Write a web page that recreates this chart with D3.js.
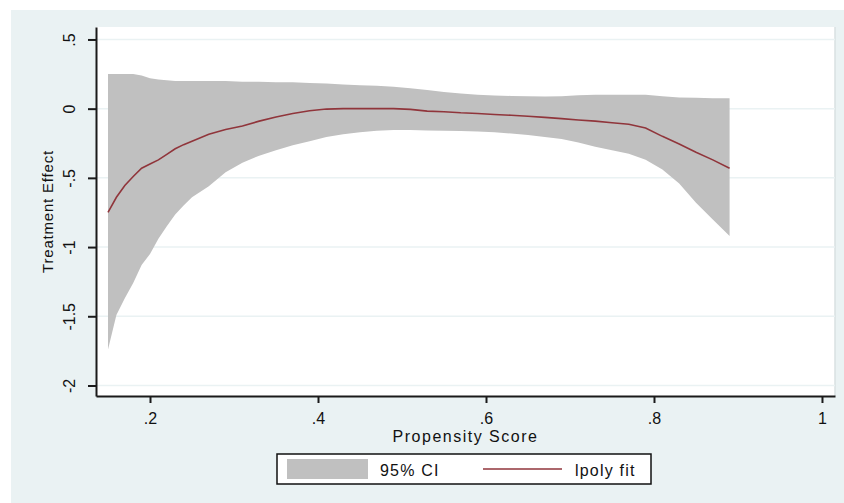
<!DOCTYPE html>
<html>
<head>
<meta charset="utf-8">
<script src="https://cdn.jsdelivr.net/npm/d3@7"></script>
<style>
  body { margin: 0; background: #fff; }
  text { font-family: "Liberation Sans", Arial, sans-serif; fill: #111; }
</style>
</head>
<body>
<svg width="844" height="503"></svg>
<script>
// lpoly grid (propensity score) with fit and 95% CI bounds
const scoreGrid = [0.15, 0.16, 0.17, 0.18, 0.19, 0.20, 0.21, 0.22, 0.23, 0.24, 0.25, 0.27, 0.29, 0.31, 0.33, 0.35,
  0.37, 0.39, 0.41, 0.43, 0.45, 0.47, 0.49, 0.51, 0.53, 0.55, 0.57, 0.59, 0.61, 0.63, 0.65, 0.67, 0.69,
  0.71, 0.73, 0.75, 0.77, 0.79, 0.81, 0.83, 0.85, 0.87, 0.89];
const fitValues = [-0.75, -0.64, -0.555, -0.49, -0.43, -0.40, -0.37, -0.33, -0.29, -0.26, -0.235, -0.185, -0.15,
  -0.125, -0.09, -0.06, -0.035, -0.015, -0.003, 0, 0, 0, 0, -0.005, -0.018, -0.022, -0.03, -0.035, -0.042,
  -0.048, -0.055, -0.063, -0.072, -0.082, -0.09, -0.102, -0.113, -0.14, -0.2, -0.255, -0.315, -0.37, -0.43];
const ciUpper = [0.25, 0.25, 0.25, 0.25, 0.24, 0.22, 0.21, 0.205, 0.20, 0.20, 0.20, 0.20, 0.20, 0.195, 0.195,
  0.19, 0.19, 0.185, 0.182, 0.175, 0.17, 0.165, 0.158, 0.148, 0.135, 0.12, 0.11, 0.10, 0.095, 0.092, 0.09,
  0.088, 0.09, 0.097, 0.1, 0.1, 0.1, 0.1, 0.09, 0.08, 0.078, 0.076, 0.075];
const ciLower = [-1.74, -1.49, -1.37, -1.26, -1.13, -1.05, -0.94, -0.85, -0.765, -0.70, -0.64, -0.56, -0.46,
  -0.39, -0.34, -0.30, -0.265, -0.235, -0.205, -0.185, -0.17, -0.16, -0.155, -0.155, -0.157, -0.16, -0.162,
  -0.165, -0.17, -0.18, -0.19, -0.205, -0.22, -0.245, -0.275, -0.30, -0.325, -0.37, -0.44, -0.54, -0.68,
  -0.80, -0.92];

const xTicks = [0.2, 0.4, 0.6, 0.8, 1];
const xTickLabels = ['.2', '.4', '.6', '.8', '1'];
const yTicks = [0.5, 0, -0.5, -1, -1.5, -2];
const yTickLabels = ['.5', '0', '-.5', '-1', '-1.5', '-2'];
const legendLabels = ['95% CI', 'lpoly fit'];

const svg = d3.select('svg');
const width = +svg.attr('width');
const height = +svg.attr('height');

const data = scoreGrid.map((s, i) => ({ s, fit: fitValues[i], lo: ciLower[i], hi: ciUpper[i] }));

const plot = { left: 96, top: 27, right: 835, bottom: 396 };

// outer graph region
svg.append('rect')
  .attr('x', 11).attr('y', 10)
  .attr('width', width - 11).attr('height', height - 10)
  .attr('fill', '#eaf2f3');

// plot region
svg.append('rect')
  .attr('x', plot.left).attr('y', plot.top)
  .attr('width', plot.right - plot.left).attr('height', plot.bottom - plot.top)
  .attr('fill', '#fff');
svg.append('line')
  .attr('x1', plot.right).attr('x2', plot.right)
  .attr('y1', plot.top).attr('y2', plot.bottom)
  .attr('stroke', '#d9e0e2').attr('stroke-width', 1.5);

const xScale = d3.scaleLinear()
  .domain([0.1357, 1.0155])
  .range([plot.left, plot.right]);

const yScale = d3.scaleLinear()
  .domain([-2.076, 0.590])
  .range([plot.bottom, plot.top]);

// gridlines
svg.append('g')
  .selectAll('line')
  .data(yTicks).enter()
  .append('line')
    .attr('x1', plot.left).attr('x2', plot.right)
    .attr('y1', d => yScale(d)).attr('y2', d => yScale(d))
    .attr('stroke', '#eaf2f3')
    .attr('stroke-width', 1.5);

// CI band
const area = d3.area()
  .x(d => xScale(d.s))
  .y0(d => yScale(d.lo))
  .y1(d => yScale(d.hi));

svg.append('path')
  .datum(data)
  .attr('d', area)
  .attr('fill', '#c0c0c0');

// lpoly fit
const line = d3.line()
  .x(d => xScale(d.s))
  .y(d => yScale(d.fit));

svg.append('path')
  .datum(data)
  .attr('d', line)
  .attr('fill', 'none')
  .attr('stroke', '#90353b')
  .attr('stroke-width', 1.6);

// axes
const yAxis = svg.append('g')
  .attr('transform', `translate(${plot.left},0)`)
  .call(d3.axisLeft(yScale).tickValues(yTicks).tickSize(8).tickSizeOuter(0)
    .tickFormat((d, i) => yTickLabels[i]));
yAxis.selectAll('.tick text')
  .attr('x', 0).attr('dy', null)
  .attr('text-anchor', 'middle')
  .attr('transform', 'translate(-21,0) rotate(-90)')
  .style('font-size', '16px')
  .style('font-family', '"Liberation Sans", Arial, sans-serif')
  .attr('fill', '#111');

const xAxis = svg.append('g')
  .attr('transform', `translate(0,${plot.bottom})`)
  .call(d3.axisBottom(xScale).tickValues(xTicks).tickSize(7).tickSizeOuter(0)
    .tickFormat((d, i) => xTickLabels[i]));
xAxis.selectAll('.tick text')
  .attr('y', 28).attr('dy', null)
  .style('font-size', '16px')
  .style('font-family', '"Liberation Sans", Arial, sans-serif')
  .attr('fill', '#111');

svg.selectAll('.domain').attr('stroke', '#1a1a1a').attr('stroke-width', 2);
svg.selectAll('.tick line').attr('stroke', '#1a1a1a').attr('stroke-width', 2);

// axis titles
svg.append('text')
  .attr('x', (plot.left + plot.right) / 2)
  .attr('y', 442)
  .attr('text-anchor', 'middle')
  .style('font-size', '16px')
  .style('letter-spacing', '1.5px')
  .text('Propensity Score');

svg.append('text')
  .attr('transform', `translate(53,${(plot.top + plot.bottom) / 2}) rotate(-90)`)
  .attr('text-anchor', 'middle')
  .style('font-size', '15px')
  .style('letter-spacing', '0.8px')
  .text('Treatment Effect');

// legend
const legend = svg.append('g');
legend.append('rect')
  .attr('x', 277).attr('y', 454)
  .attr('width', 374).attr('height', 30)
  .attr('fill', '#fff')
  .attr('stroke', '#111')
  .attr('stroke-width', 1.5);
legend.append('rect')
  .attr('x', 287).attr('y', 459)
  .attr('width', 81).attr('height', 20)
  .attr('fill', '#c0c0c0');
legend.append('text')
  .attr('x', 380).attr('y', 476)
  .style('font-size', '16px')
  .style('letter-spacing', '1.2px')
  .text(legendLabels[0]);
legend.append('line')
  .attr('x1', 483).attr('x2', 562)
  .attr('y1', 469).attr('y2', 469)
  .attr('stroke', '#90353b')
  .attr('stroke-width', 1.6);
legend.append('text')
  .attr('x', 575).attr('y', 476)
  .style('font-size', '16px')
  .style('letter-spacing', '1.2px')
  .text(legendLabels[1]);
</script>
</body>
</html>
